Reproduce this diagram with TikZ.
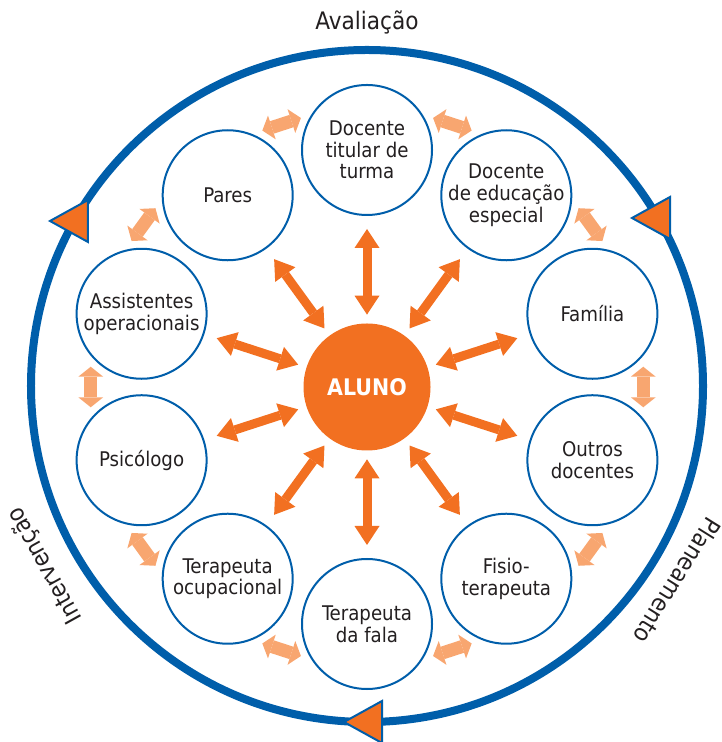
\documentclass[tikz,border=0pt]{standalone}
\usepackage{fontspec}
\setmainfont{DejaVu Sans Condensed}
\usetikzlibrary{arrows.meta}

\definecolor{ringblue}{RGB}{0,94,170}
\definecolor{alunoorange}{RGB}{242,112,33}
\definecolor{softorange}{RGB}{248,166,112}
\definecolor{textgrey}{RGB}{35,31,32}

\begin{document}
\begin{tikzpicture}[x=0.2mm, y=0.2mm, text=textgrey,
    main/.style = {draw=ringblue, circle, line width=0.4mm, minimum size=26mm, inner sep=-6mm, align=center, font=\fontsize{11.5}{12.3}\selectfont},
    big/.style = {draw=alunoorange, line width=1.8mm, {Triangle[width=5mm,length=3.8mm,line width=0pt]}-{Triangle[width=5mm,length=3.8mm,line width=0pt]}, shorten <=1.7mm, shorten >=2.6mm},
    small/.style = {draw=softorange, line width=2.6mm, {Triangle[width=5mm,length=2mm,line width=0pt]}-{Triangle[width=5mm,length=2mm,line width=0pt]}},
    flag/.style = {draw=ringblue, fill=alunoorange, line width=0.4mm, line join=miter},
    title/.style = {font=\fontsize{13.7}{16}\selectfont}
    ]
\useasboundingbox (-367,-355) rectangle (354,387);

% outer cycle
\draw[ringblue, line width=1.6mm] (0,1) circle (336);
\draw[flag] (-317,166) -- (-279,187) -- (-279,145) -- cycle;
\draw[flag] (265,169) -- (303,190) -- (303,148) -- cycle;
\draw[flag] (-23,-335) -- (15,-314) -- (15,-356) -- cycle;

\node[title] (aval) at (0,365) {Avaliação};
\node[title, rotate=-122] (plan) at (-32:366) {Planeamento};
\node[title, rotate=119] (interv) at (209:368) {Intervenção};

% centre and partners
\node[circle, fill=alunoorange, minimum size=25.4mm, text=white, font=\bfseries\fontsize{13}{15}\selectfont] (aluno) at (0,0) {ALUNO};

\node[main] (0) at (90:237) {Docente\\titular de\\turma};
\node[main] (1) at (54:237) {Docente\\de educação\\especial};
\node[main] (2) at (18:237) {Família};
\node[main] (3) at (-18:237) {Outros\\docentes};
\node[main] (4) at (-54:237) {Fisio-\\terapeuta};
\node[main] (5) at (-90:237) {Terapeuta\\da fala};
\node[main] (6) at (-126:237) {Terapeuta\\ocupacional};
\node[main] (7) at (-162:237) {Psicólogo};
\node[main] (8) at (162:237) {Assistentes\\operacionais};
\node[main] (9) at (126:237) {Pares};

\draw[big] (aluno) -- (0);
\draw[big] (aluno) -- (1);
\draw[big] (aluno) -- (2);
\draw[big] (aluno) -- (3);
\draw[big] (aluno) -- (4);
\draw[big] (aluno) -- (5);
\draw[big] (aluno) -- (6);
\draw[big] (aluno) -- (7);
\draw[big] (aluno) -- (8);
\draw[big] (aluno) -- (9);

% links between neighbours
\coordinate (s01) at (76.2:277); \coordinate (e01) at (67.8:277);
\coordinate (s12) at (40.2:277); \coordinate (e12) at (31.8:277);
\coordinate (s23) at (4.2:277);  \coordinate (e23) at (-4.2:277);
\coordinate (s34) at (-31.8:277); \coordinate (e34) at (-40.2:277);
\coordinate (s45) at (-67.8:277); \coordinate (e45) at (-76.2:277);
\coordinate (s56) at (-103.8:277); \coordinate (e56) at (-112.2:277);
\coordinate (s67) at (-139.8:277); \coordinate (e67) at (-148.2:277);
\coordinate (s78) at (-175.8:277); \coordinate (e78) at (-184.2:277);
\coordinate (s89) at (148.2:277); \coordinate (e89) at (139.8:277);
\coordinate (s90) at (112.2:277); \coordinate (e90) at (103.8:277);

\draw[small] (s01) -- (e01);
\draw[small] (s12) -- (e12);
\draw[small] (s23) -- (e23);
\draw[small] (s34) -- (e34);
\draw[small] (s45) -- (e45);
\draw[small] (s56) -- (e56);
\draw[small] (s67) -- (e67);
\draw[small] (s78) -- (e78);
\draw[small] (s89) -- (e89);
\draw[small] (s90) -- (e90);

\end{tikzpicture}
\end{document}
